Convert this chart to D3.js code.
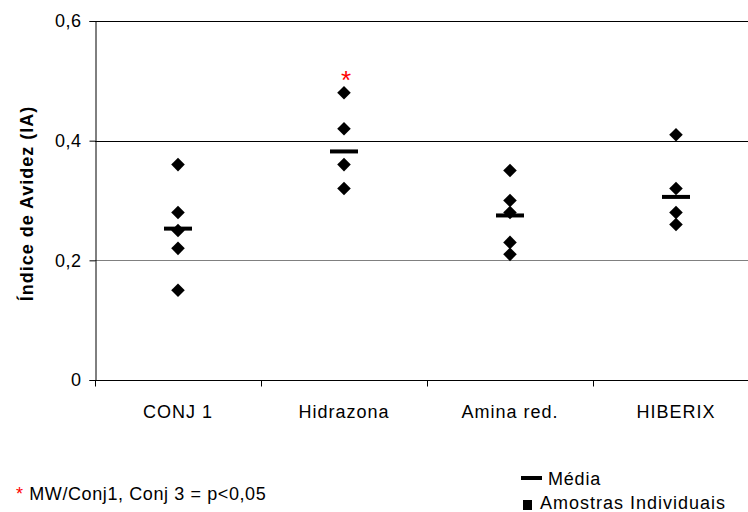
<!DOCTYPE html>
<html>
<head>
<meta charset="utf-8">
<script src="https://cdn.jsdelivr.net/npm/d3@7"></script>
<style>
  body { margin: 0; background: #fff; }
  svg { display: block; font-family: "Liberation Sans", Arial, sans-serif; }
</style>
</head>
<body>
<div id="chart"></div>
<script>
// values
const categories = ['CONJ 1', 'Hidrazona', 'Amina red.', 'HIBERIX'];
const samples = [
  [0.36, 0.28, 0.25, 0.22, 0.15],
  [0.48, 0.42, 0.36, 0.32],
  [0.35, 0.30, 0.28, 0.23, 0.21],
  [0.41, 0.32, 0.28, 0.26]
];
const means = [0.253, 0.382, 0.275, 0.306];
const yTicks = [0, 0.2, 0.4, 0.6];
const significant = ['Hidrazona'];

const width = 748, height = 512;
const margin = {top: 21, right: -11, bottom: 132, left: 95};

const svg = d3.select('#chart').append('svg')
  .attr('width', width)
  .attr('height', height);

const x = d3.scaleBand()
  .domain(categories)
  .range([margin.left, width - margin.right]);

const y = d3.scaleLinear()
  .domain([0, 0.6])
  .range([height - margin.bottom, margin.top]);

const fmt = d => d === 0 ? '0' : d3.format('.1f')(d).replace('.', ',');

// gridlines
svg.append('g')
  .selectAll('line')
  .data(yTicks.filter(d => d > 0))
  .join('line')
  .attr('x1', margin.left)
  .attr('x2', width)
  .attr('y1', d => Math.round(y(d)) + 0.5)
  .attr('y2', d => Math.round(y(d)) + 0.5)
  .attr('stroke', d => d === 0.2 ? '#808080' : '#000')
  .attr('stroke-width', 1);

// y axis
const yAxis = svg.append('g')
  .attr('transform', `translate(${margin.left + 0.5},0)`)
  .call(d3.axisLeft(y).tickValues(yTicks).tickFormat(fmt).tickSize(6).tickPadding(8));
yAxis.select('.domain').attr('stroke', '#000');
yAxis.selectAll('text')
  .attr('font-size', 18)
  .attr('letter-spacing', 0.5)
  .attr('fill', '#000')
  .attr('font-family', '"Liberation Sans", Arial, sans-serif');

// x axis with ticks on band edges
const xAxisG = svg.append('g')
  .attr('transform', `translate(0,${Math.round(y(0)) + 0.5})`);
xAxisG.append('line')
  .attr('x1', margin.left)
  .attr('x2', width)
  .attr('stroke', '#000');
xAxisG.selectAll('line.tick')
  .data(categories.map(c => x(c)).concat([x(categories[categories.length - 1]) + x.bandwidth()]))
  .join('line')
  .attr('class', 'tick')
  .attr('x1', d => Math.round(d) + 0.5)
  .attr('x2', d => Math.round(d) + 0.5)
  .attr('y1', 0)
  .attr('y2', 6)
  .attr('stroke', '#000');
xAxisG.selectAll('text')
  .data(categories)
  .join('text')
  .attr('x', d => x(d) + x.bandwidth() / 2)
  .attr('y', 37)
  .attr('text-anchor', 'middle')
  .attr('font-size', 18)
  .attr('letter-spacing', 1)
  .text(d => d);

// y axis title
svg.append('text')
  .attr('transform', `translate(33,${(y(0) + y(0.6)) / 2 + 3}) rotate(-90)`)
  .attr('text-anchor', 'middle')
  .attr('font-size', 18)
  .attr('font-weight', 'bold')
  .attr('letter-spacing', 1)
  .text('Índice de Avidez (IA)');

// individual samples
const points = samples.flatMap((vals, i) => vals.map(v => ({cat: categories[i], v})));
const diamond = d3.symbol().type(d3.symbolSquare).size(92);
svg.append('g')
  .selectAll('path')
  .data(points)
  .join('path')
  .attr('d', diamond)
  .attr('transform', d => `translate(${x(d.cat) + x.bandwidth() / 2},${y(d.v)}) rotate(45)`)
  .attr('fill', '#000');

// means
svg.append('g')
  .selectAll('line')
  .data(means)
  .join('line')
  .attr('x1', (d, i) => x(categories[i]) + x.bandwidth() / 2 - 14)
  .attr('x2', (d, i) => x(categories[i]) + x.bandwidth() / 2 + 14)
  .attr('y1', d => y(d))
  .attr('y2', d => y(d))
  .attr('stroke', '#000')
  .attr('stroke-width', 4);

// significance asterisk
svg.append('g')
  .selectAll('text')
  .data(significant)
  .join('text')
  .attr('x', d => x(d) + x.bandwidth() / 2 + 2)
  .attr('y', d => y(d3.max(samples[categories.indexOf(d)])) - 4)
  .attr('text-anchor', 'middle')
  .attr('font-size', 26)
  .attr('fill', '#ff0000')
  .text('*');

// footnote
const note = svg.append('text')
  .attr('x', 16)
  .attr('y', 500)
  .attr('font-size', 18)
  .attr('letter-spacing', 0.6);
note.append('tspan').attr('fill', '#ff0000').text('*');
note.append('tspan').attr('fill', '#000').text(' MW/Conj1, Conj 3 = p<0,05');

// legend
const legend = svg.append('g');
legend.append('line')
  .attr('x1', 521).attr('x2', 542)
  .attr('y1', 478).attr('y2', 478)
  .attr('stroke', '#000').attr('stroke-width', 4);
legend.append('text')
  .attr('x', 548).attr('y', 485)
  .attr('font-size', 18)
  .attr('letter-spacing', 0.8)
  .text('Média');
legend.append('rect')
  .attr('x', 523).attr('y', 500)
  .attr('width', 9).attr('height', 10)
  .attr('fill', '#000');
legend.append('text')
  .attr('x', 540).attr('y', 509)
  .attr('font-size', 18)
  .attr('letter-spacing', 1)
  .text('Amostras Individuais');
</script>
</body>
</html>
